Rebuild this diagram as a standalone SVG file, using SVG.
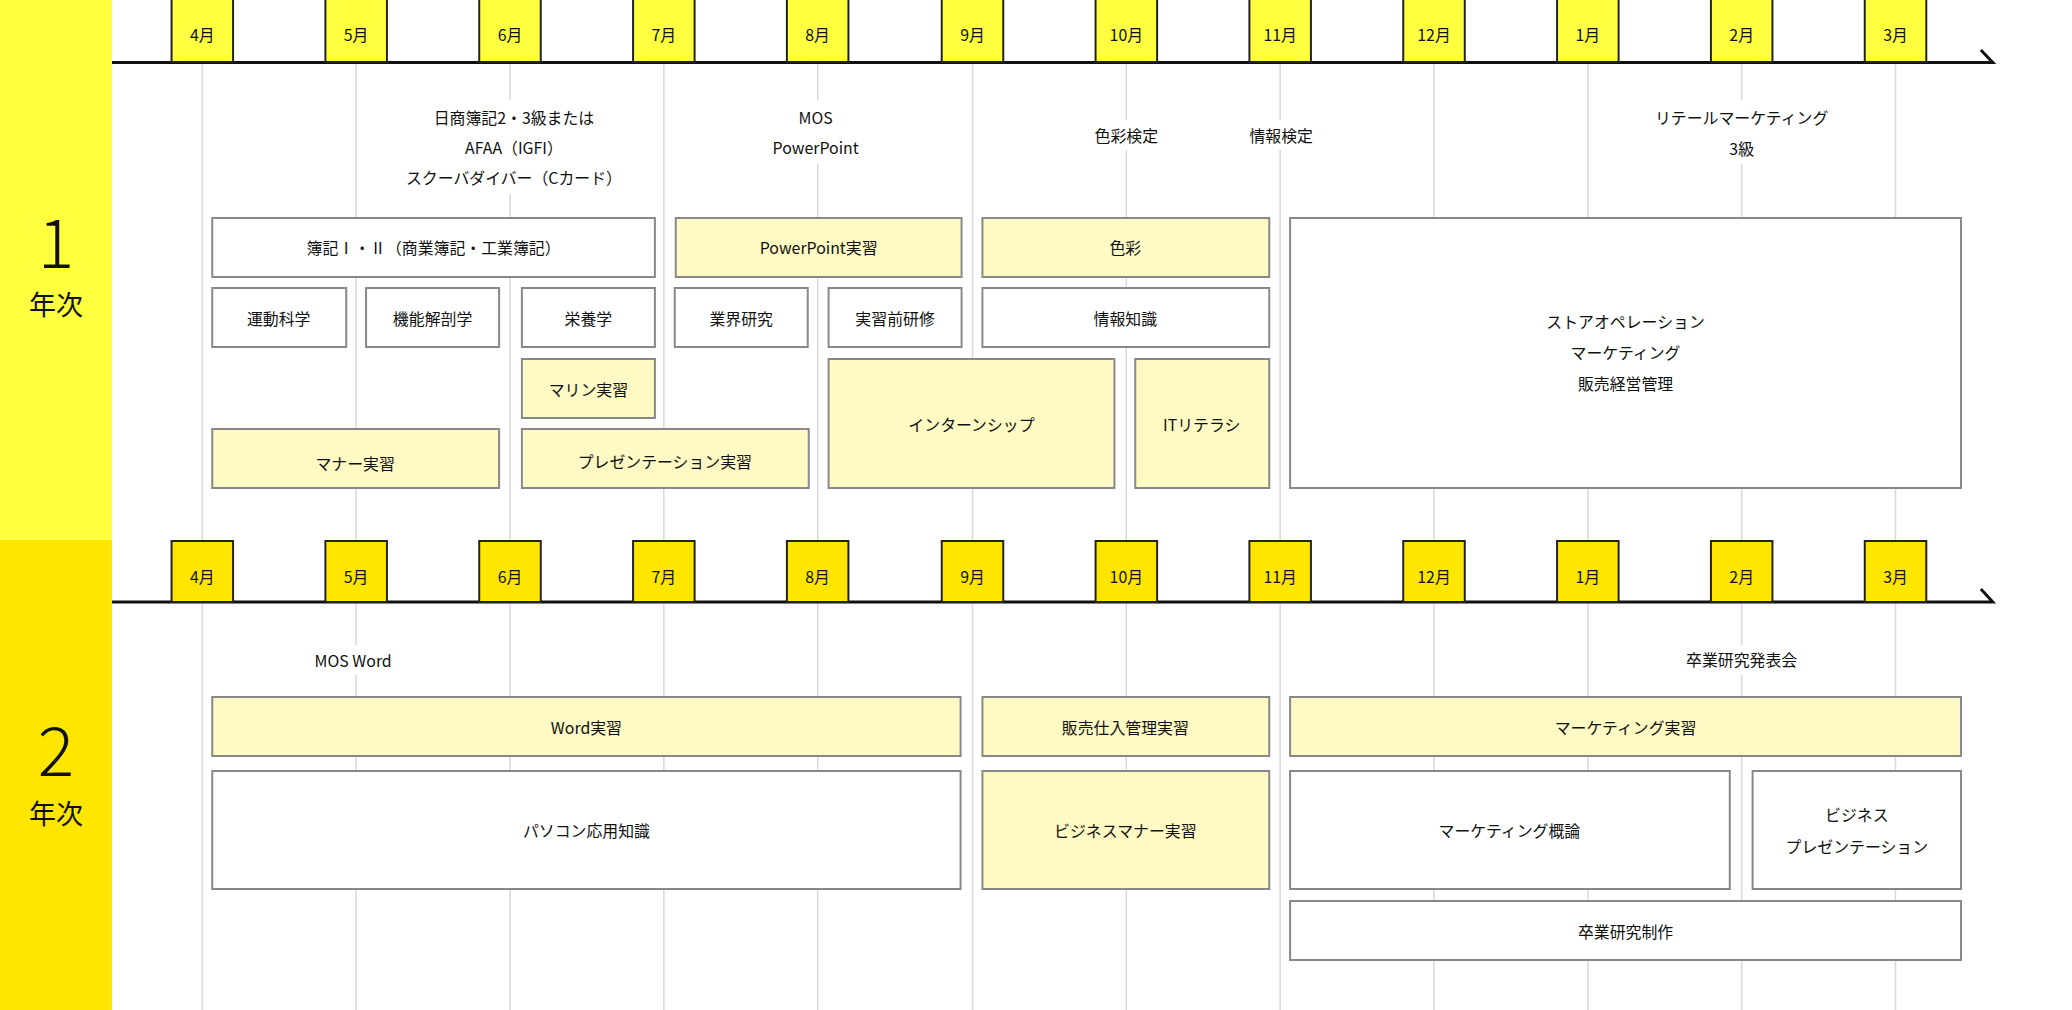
<svg xmlns="http://www.w3.org/2000/svg" width="2072" height="1010" viewBox="0 0 2072 1010">
<style>
text{font-family:"Noto Sans CJK JP","Liberation Sans",sans-serif;fill:#111;text-anchor:middle;dominant-baseline:central}
.g{stroke:#d8d8d8;stroke-width:1.5}
.tl{stroke:#111;stroke-width:3;fill:none}
.m1{fill:#FFFF40;stroke:#222;stroke-width:2}
.m2{fill:#FFE600;stroke:#222;stroke-width:2}
.mt{font-size:28}
.mt tspan{font-size:19}
.w rect{fill:#fff;stroke:#888;stroke-width:2}
.y rect{fill:#FFF9C4;stroke:#888;stroke-width:2}
.n text{font-size:22.5}
.lb{font-size:22.5}
</style>
<rect x="0" y="0" width="112" height="540" fill="#FFFF40"/>
<rect x="0" y="540" width="112" height="470" fill="#FFE600"/>
<text x="56" y="238" font-size="68" font-weight="300">1</text>
<text x="56" y="303" font-size="27">年次</text>
<text x="56" y="746" font-size="68" font-weight="300">2</text>
<text x="56" y="812" font-size="27">年次</text>
<g transform="translate(112,0) scale(0.9925,1) translate(-112,0)">
<g id="grid">
<g class="g">
<line x1="203" y1="62" x2="203" y2="540"/><line x1="358" y1="62" x2="358" y2="540"/><line x1="513" y1="62" x2="513" y2="540"/><line x1="668" y1="62" x2="668" y2="540"/><line x1="823" y1="62" x2="823" y2="540"/><line x1="979" y1="62" x2="979" y2="540"/><line x1="1134" y1="62" x2="1134" y2="540"/><line x1="1289" y1="62" x2="1289" y2="540"/><line x1="1444" y1="62" x2="1444" y2="540"/><line x1="1599" y1="62" x2="1599" y2="540"/><line x1="1754" y1="62" x2="1754" y2="540"/><line x1="1909" y1="62" x2="1909" y2="540"/>
<line x1="203" y1="602" x2="203" y2="1010"/><line x1="358" y1="602" x2="358" y2="1010"/><line x1="513" y1="602" x2="513" y2="1010"/><line x1="668" y1="602" x2="668" y2="1010"/><line x1="823" y1="602" x2="823" y2="1010"/><line x1="979" y1="602" x2="979" y2="1010"/><line x1="1134" y1="602" x2="1134" y2="1010"/><line x1="1289" y1="602" x2="1289" y2="1010"/><line x1="1444" y1="602" x2="1444" y2="1010"/><line x1="1599" y1="602" x2="1599" y2="1010"/><line x1="1754" y1="602" x2="1754" y2="1010"/><line x1="1909" y1="602" x2="1909" y2="1010"/>
</g>
</g>
<g id="labels">
<rect x="390" y="100" width="255" height="94" fill="#fff"/>
<rect x="745" y="100" width="150" height="64" fill="#fff"/>
<rect x="1075" y="120" width="120" height="30" fill="#fff"/>
<rect x="1230" y="120" width="120" height="30" fill="#fff"/>
<rect x="1605" y="100" width="300" height="64" fill="#fff"/>
<rect x="275" y="645" width="160" height="30" fill="#fff"/>
<rect x="1660" y="645" width="190" height="30" fill="#fff"/>
<text class="lb" x="517" y="117">日商簿記2・3級または</text>
<text class="lb" x="517" y="147">AFAA（IGFI）</text>
<text class="lb" x="517" y="177">スクーバダイバー（Cカード）</text>
<text class="lb" x="821" y="117">MOS</text>
<text class="lb" x="821" y="147">PowerPoint</text>
<text class="lb" x="1134" y="135">色彩検定</text>
<text class="lb" x="1290" y="135">情報検定</text>
<text class="lb" x="1754" y="117">リテールマーケティング</text>
<text class="lb" x="1754" y="148">3級</text>
<text class="lb" x="355" y="660">MOS Word</text>
<text class="lb" x="1754" y="659">卒業研究発表会</text>
</g>
<g id="timelines">
<path class="tl" d="M112 62.5H2007L1995 50"/>
<path class="tl" d="M112 602H2007L1995 589"/>
</g>
<g id="months1">
<rect class="m1" x="172" y="-2" width="62" height="64"/><text class="mt" x="203" y="34">4<tspan>月</tspan></text>
<rect class="m1" x="327" y="-2" width="62" height="64"/><text class="mt" x="358" y="34">5<tspan>月</tspan></text>
<rect class="m1" x="482" y="-2" width="62" height="64"/><text class="mt" x="513" y="34">6<tspan>月</tspan></text>
<rect class="m1" x="637" y="-2" width="62" height="64"/><text class="mt" x="668" y="34">7<tspan>月</tspan></text>
<rect class="m1" x="792" y="-2" width="62" height="64"/><text class="mt" x="823" y="34">8<tspan>月</tspan></text>
<rect class="m1" x="948" y="-2" width="62" height="64"/><text class="mt" x="979" y="34">9<tspan>月</tspan></text>
<rect class="m1" x="1103" y="-2" width="62" height="64"/><text class="mt" x="1134" y="34">10<tspan>月</tspan></text>
<rect class="m1" x="1258" y="-2" width="62" height="64"/><text class="mt" x="1289" y="34">11<tspan>月</tspan></text>
<rect class="m1" x="1413" y="-2" width="62" height="64"/><text class="mt" x="1444" y="34">12<tspan>月</tspan></text>
<rect class="m1" x="1568" y="-2" width="62" height="64"/><text class="mt" x="1599" y="34">1<tspan>月</tspan></text>
<rect class="m1" x="1723" y="-2" width="62" height="64"/><text class="mt" x="1754" y="34">2<tspan>月</tspan></text>
<rect class="m1" x="1878" y="-2" width="62" height="64"/><text class="mt" x="1909" y="34">3<tspan>月</tspan></text>
</g>
<g id="months2">
<rect class="m2" x="172" y="541" width="62" height="61"/><text class="mt" x="203" y="576">4<tspan>月</tspan></text>
<rect class="m2" x="327" y="541" width="62" height="61"/><text class="mt" x="358" y="576">5<tspan>月</tspan></text>
<rect class="m2" x="482" y="541" width="62" height="61"/><text class="mt" x="513" y="576">6<tspan>月</tspan></text>
<rect class="m2" x="637" y="541" width="62" height="61"/><text class="mt" x="668" y="576">7<tspan>月</tspan></text>
<rect class="m2" x="792" y="541" width="62" height="61"/><text class="mt" x="823" y="576">8<tspan>月</tspan></text>
<rect class="m2" x="948" y="541" width="62" height="61"/><text class="mt" x="979" y="576">9<tspan>月</tspan></text>
<rect class="m2" x="1103" y="541" width="62" height="61"/><text class="mt" x="1134" y="576">10<tspan>月</tspan></text>
<rect class="m2" x="1258" y="541" width="62" height="61"/><text class="mt" x="1289" y="576">11<tspan>月</tspan></text>
<rect class="m2" x="1413" y="541" width="62" height="61"/><text class="mt" x="1444" y="576">12<tspan>月</tspan></text>
<rect class="m2" x="1568" y="541" width="62" height="61"/><text class="mt" x="1599" y="576">1<tspan>月</tspan></text>
<rect class="m2" x="1723" y="541" width="62" height="61"/><text class="mt" x="1754" y="576">2<tspan>月</tspan></text>
<rect class="m2" x="1878" y="541" width="62" height="61"/><text class="mt" x="1909" y="576">3<tspan>月</tspan></text>
</g>
<g id="n-boki" class="n w"><rect x="213" y="218" width="446" height="59"/><text x="436" y="247">簿記Ⅰ・Ⅱ（商業簿記・工業簿記）</text></g>
<g id="n-ppt" class="n y"><rect x="680" y="218" width="288" height="59"/><text x="824" y="247">PowerPoint実習</text></g>
<g id="n-shikisai" class="n y"><rect x="989" y="218" width="289" height="59"/><text x="1133" y="247">色彩</text></g>
<g id="n-store" class="n w"><rect x="1299" y="218" width="676" height="270"/><text x="1637" y="321">ストアオペレーション</text><text x="1637" y="352">マーケティング</text><text x="1637" y="383">販売経営管理</text></g>
<g id="n-undo" class="n w"><rect x="213" y="288" width="135" height="59"/><text x="280" y="318">運動科学</text></g>
<g id="n-kino" class="n w"><rect x="368" y="288" width="134" height="59"/><text x="435" y="318">機能解剖学</text></g>
<g id="n-eiyo" class="n w"><rect x="525" y="288" width="134" height="59"/><text x="592" y="318">栄養学</text></g>
<g id="n-gyokai" class="n w"><rect x="679" y="288" width="134" height="59"/><text x="746" y="318">業界研究</text></g>
<g id="n-jisshumae" class="n w"><rect x="834" y="288" width="134" height="59"/><text x="901" y="318">実習前研修</text></g>
<g id="n-joho" class="n w"><rect x="989" y="288" width="289" height="59"/><text x="1133" y="318">情報知識</text></g>
<g id="n-marin" class="n y"><rect x="525" y="359" width="134" height="59"/><text x="592" y="389">マリン実習</text></g>
<g id="n-intern" class="n y"><rect x="834" y="359" width="288" height="129"/><text x="978" y="424">インターンシップ</text></g>
<g id="n-it" class="n y"><rect x="1143" y="359" width="135" height="129"/><text x="1210" y="424">ITリテラシ</text></g>
<g id="n-manner" class="n y"><rect x="213" y="429" width="289" height="59"/><text x="357" y="463">マナー実習</text></g>
<g id="n-presen" class="n y"><rect x="525" y="429" width="289" height="59"/><text x="669" y="461">プレゼンテーション実習</text></g>
<g id="n-word" class="n y"><rect x="213" y="697" width="754" height="59"/><text x="590" y="727">Word実習</text></g>
<g id="n-hanbai" class="n y"><rect x="989" y="697" width="289" height="59"/><text x="1133" y="727">販売仕入管理実習</text></g>
<g id="n-mkjisshu" class="n y"><rect x="1299" y="697" width="676" height="59"/><text x="1637" y="727">マーケティング実習</text></g>
<g id="n-pc" class="n w"><rect x="213" y="771" width="754" height="118"/><text x="590" y="830">パソコン応用知識</text></g>
<g id="n-bizmanner" class="n y"><rect x="989" y="771" width="289" height="118"/><text x="1133" y="830">ビジネスマナー実習</text></g>
<g id="n-mkgairon" class="n w"><rect x="1299" y="771" width="443" height="118"/><text x="1520" y="830">マーケティング概論</text></g>
<g id="n-bizpre" class="n w"><rect x="1765" y="771" width="210" height="118"/><text x="1870" y="814">ビジネス</text><text x="1870" y="846">プレゼンテーション</text></g>
<g id="n-sotsugyo" class="n w"><rect x="1299" y="901" width="676" height="59"/><text x="1637" y="931">卒業研究制作</text></g>
</g>
</svg>
